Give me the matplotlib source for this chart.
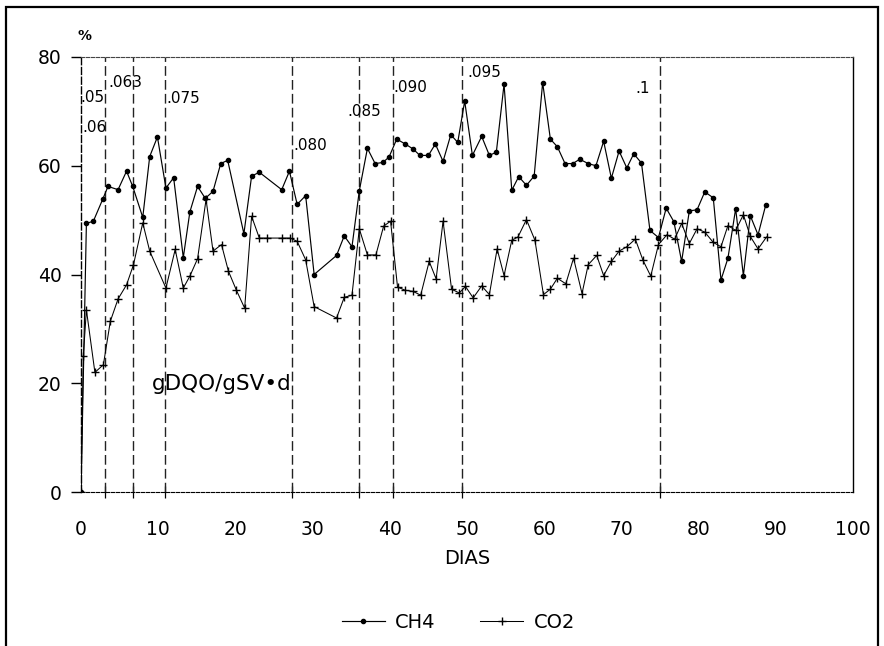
import matplotlib
matplotlib.use("Agg")
import matplotlib.pyplot as plt
from matplotlib.patches import Rectangle

# ---------------- data ----------------
ch4_days = [0, 0.7, 1.6, 2.8, 3.5, 4.8, 5.9, 6.7, 8.0, 8.9, 9.9, 11.0, 12.0, 13.25, 14.1,
            15.1, 16.1, 17.1, 18.1, 19.0, 21.1, 22.1, 23.1, 26.0, 27.0, 28.0, 29.1, 30.2,
            33.1, 34.1, 35.1, 36.05, 37.1, 38.1, 39.1, 39.9, 40.9, 42.0, 43.0, 43.9, 45.0,
            45.9, 46.9, 47.9, 48.8, 49.7, 50.7, 51.9, 52.9, 53.8, 54.8, 55.8, 56.7, 57.7,
            58.7, 59.8, 60.8, 61.7, 62.7, 63.7, 64.6, 65.7, 66.7, 67.7, 68.7, 69.7, 70.7,
            71.6, 72.6, 73.7, 74.8, 75.8, 76.8, 77.8, 78.8, 79.8, 80.8, 81.9, 82.9, 83.8,
            84.8, 85.8, 86.7, 87.7, 88.7]
ch4_vals = [0, 49.4, 49.8, 53.8, 56.2, 55.6, 59.0, 56.2, 50.5, 61.7, 65.3, 55.9, 57.8, 43.1, 51.5,
            56.2, 54.0, 55.3, 60.4, 61.0, 47.5, 58.1, 58.8, 55.6, 59.0, 52.9, 54.5, 40.0,
            43.5, 47.1, 45.1, 55.4, 63.2, 60.4, 60.6, 61.6, 64.9, 64.0, 63.1, 61.9, 61.9,
            64.0, 60.8, 65.7, 64.3, 71.9, 61.9, 65.4, 61.9, 62.5, 75.0, 55.5, 58.0, 56.4,
            58.1, 75.3, 64.9, 63.5, 60.4, 60.4, 61.2, 60.4, 60.0, 64.5, 57.7, 62.7, 59.6,
            62.2, 60.5, 48.1, 46.8, 52.2, 49.7, 42.4, 51.7, 51.9, 55.2, 54.1, 39.0, 43.0,
            52.1, 39.8, 50.8, 47.3, 52.8]

co2_days = [0, 0.3, 0.7, 1.8, 2.9, 3.8, 4.8, 5.9, 6.8, 8.0, 8.9, 11.0, 12.2, 13.25, 14.1,
            15.1, 16.2, 17.1, 18.2, 19.1, 20.1, 21.2, 22.1, 23.1, 24.1, 26.0, 27.1, 28.0,
            29.1, 30.2, 33.1, 34.1, 35.1, 36.05, 37.1, 38.2, 39.2, 40.1, 41.0, 42.0, 43.0,
            44.0, 45.1, 46.0, 46.9, 48.0, 49.0, 49.8, 50.8, 51.9, 52.9, 53.9, 54.8, 55.8,
            56.6, 57.7, 58.8, 59.9, 60.8, 61.7, 62.8, 63.8, 64.9, 65.7, 66.8, 67.7, 68.7,
            69.7, 70.7, 71.8, 72.8, 73.8, 74.8, 75.9, 76.9, 77.8, 78.8, 79.8, 80.8, 81.9,
            82.9, 83.8, 84.8, 85.8, 86.7, 87.7, 88.8]
co2_vals = [0, 25.0, 33.5, 22.0, 23.4, 31.4, 35.5, 38.1, 41.8, 49.5, 44.3, 37.5, 44.6, 37.5, 39.7,
            42.9, 53.8, 44.3, 45.5, 40.6, 37.2, 33.8, 50.7, 46.7, 46.7, 46.7, 46.7, 46.1,
            42.7, 34.1, 32.0, 35.8, 36.2, 48.4, 43.6, 43.6, 48.9, 49.8, 37.7, 37.1, 36.9,
            36.2, 42.4, 39.2, 49.8, 37.3, 36.6, 37.8, 35.7, 37.9, 36.3, 44.7, 39.8, 46.3,
            46.9, 50.1, 46.3, 36.3, 37.3, 39.3, 38.3, 43.0, 36.5, 41.8, 43.5, 39.8, 42.4,
            44.3, 45.1, 46.5, 42.6, 39.7, 45.5, 47.3, 46.5, 49.4, 45.7, 48.4, 47.8, 45.9,
            45.1, 49.0, 48.1, 51.0, 47.0, 44.7, 46.9]

series_names = ["CH4", "CO2"]

# organic loading rate changes (gDQO/gSV·d)
vline_days = [3.1, 6.8, 10.9, 27.3, 36.0, 40.4, 49.4, 75.0]
load_labels = [".05", ".06", ".063", ".075", ".080", ".085", ".090", ".095", ".1"]
load_label_x = [-0.1, 0.2, 3.6, 11.1, 27.5, 34.5, 40.5, 50.1, 71.8]
load_label_y = [72.7, 67.2, 75.5, 72.6, 63.9, 70.2, 74.6, 77.3, 74.4]

x_ticks = list(range(0, 101, 10))
y_ticks = [0, 20, 40, 60, 80]

# ---------------- figure ----------------
W, H = 884, 646
fig = plt.figure(figsize=(W / 100, H / 100), dpi=100)
fig.patch.set_facecolor("white")
ax = fig.add_axes([81 / W, 1 - 492 / H, (853 - 81) / W, (492 - 57) / H])

ax.plot(ch4_days, ch4_vals, color="black", lw=0.85, marker="o", ms=3.0,
        mfc="black", mec="black", label=series_names[0], zorder=4)
ax.plot(co2_days, co2_vals, color="black", lw=0.75, marker="+", ms=5.5,
        mew=1.0, label=series_names[1], zorder=4)

for d in vline_days:
    ax.plot([d, d], [0, 80], color="#222222", lw=1.0, ls=(0, (7, 3)), zorder=2)

for t, x, y in zip(load_labels, load_label_x, load_label_y):
    ax.text(x, y - 1.0, t, fontsize=11, ha="left", va="baseline", color="black", zorder=5)

ax.text(9.2, 18.85, "gDQO/gSV\u2022d", fontsize=15.5, ha="left", va="baseline", color="black")

ax.set_xlim(0, 100)
ax.set_ylim(0, 80)

ax.set_xticks(x_ticks)
ax.set_xticklabels([str(v) for v in x_ticks])
ax.set_xticks(vline_days, minor=True)
ax.tick_params(axis="x", which="major", length=0, pad=20, labelsize=13.5)
ax.tick_params(axis="x", which="minor", direction="inout", length=8, width=0.9)
ax.set_yticks(y_ticks)
ax.set_yticklabels([str(v) for v in y_ticks])
ax.tick_params(axis="y", which="major", direction="out", length=7, width=1.0, pad=7, labelsize=13.5)

ax.spines["left"].set_linestyle((0, (5, 2)))
ax.spines["left"].set_linewidth(1.0)
ax.spines["top"].set_linestyle((0, (3, 1.5)))
ax.spines["top"].set_linewidth(0.8)
ax.spines["top"].set_color("#444444")
ax.spines["bottom"].set_linestyle((0, (3, 1.5)))
ax.spines["bottom"].set_linewidth(0.8)
ax.spines["right"].set_linewidth(1.0)

fig.text(85 / W, 1 - 36 / H, "%", fontsize=10, fontweight="bold", ha="center", va="center")
fig.text(467 / W, 1 - 558 / H, "DIAS", fontsize=14, ha="center", va="center")

leg = ax.legend(loc="center", bbox_to_anchor=(458.5 / W, 1 - 622 / H),
                bbox_transform=fig.transFigure, ncol=2, frameon=False, fontsize=14,
                handlelength=2.2, handletextpad=0.55, columnspacing=2.3)

fig.patches.append(Rectangle((6 / W, -0.05), (878 - 6) / W, 1.05 - 7 / H,
                             transform=fig.transFigure, fill=False,
                             edgecolor="black", lw=1.6))

fig.savefig("out.png", dpi=100, facecolor="white")
